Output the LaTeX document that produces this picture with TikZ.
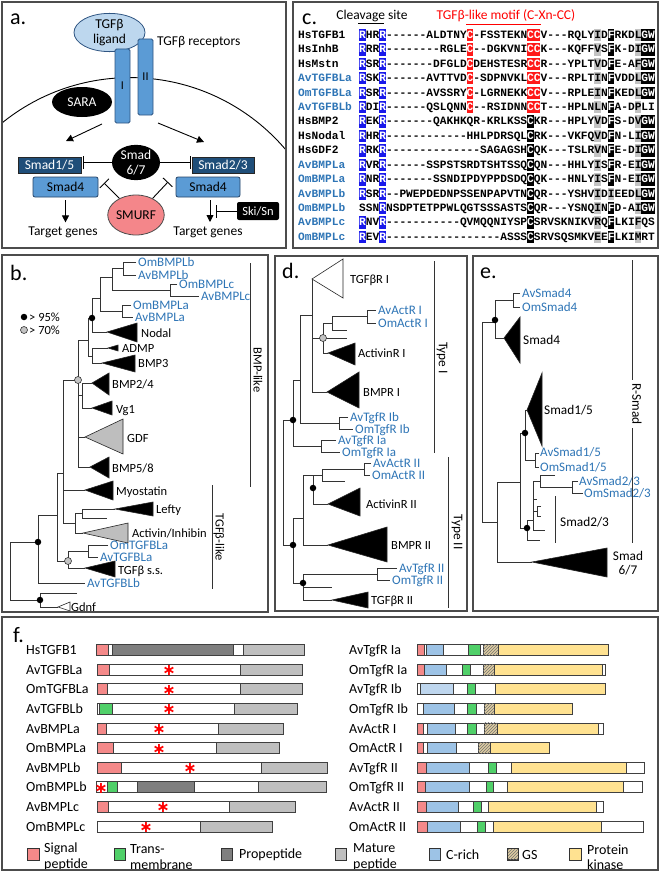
\documentclass[tikz,border=0pt]{standalone}
\usepackage{fontspec}
\setmainfont{Carlito}
\setmonofont{Liberation Mono}
\newfontfamily\djv{DejaVu Sans}
\usetikzlibrary{shapes.geometric,arrows.meta,patterns}
\definecolor{tb}{RGB}{46,117,182}
\definecolor{ligc}{RGB}{189,215,238}
\definecolor{recc}{RGB}{91,155,213}
\definecolor{recb}{RGB}{47,85,130}
\definecolor{dkb}{RGB}{31,78,121}
\definecolor{smurfc}{RGB}{244,134,138}
\definecolor{sigc}{RGB}{244,137,137}
\definecolor{tmc}{RGB}{80,208,105}
\definecolor{proc}{RGB}{127,127,127}
\definecolor{matc}{RGB}{191,191,191}
\definecolor{crc}{RGB}{157,195,230}
\definecolor{crl}{RGB}{190,214,238}
\definecolor{gsc}{RGB}{222,204,160}
\definecolor{pkc}{RGB}{255,226,145}
\definecolor{pblue}{RGB}{25,25,235}
\definecolor{pred}{RGB}{255,25,25}
\definecolor{pgray}{RGB}{195,195,195}
\definecolor{trig}{RGB}{190,190,190}
\newcommand\fsz[2]{\fontsize{#1}{#2}\selectfont}
\newcommand\w[1]{\textcolor{white}{#1}}
\newcommand\hl[3]{\fill[#1] ({359+#3*6.72},{35+#2*14.43-6.2}) rectangle ({359+(#3+1)*6.72},{35+#2*14.43+6.2});}
\newcommand\tri[6]{\filldraw[fill=#1,draw=black!85,line width=0.6pt] (#2,#3) -- (#4,#5) -- (#4,#6) -- cycle;}
\newcommand\tbr[5]{\draw[tl] (#4,#2) -| (#1,#3) -- (#5,#3);}
\newcommand\tlab[4][lab]{\node[#1] at ({#2+1},{#3+4.3}) {#4};}
\newcommand\seg[4]{\filldraw[fill=#4,draw=black!75,line width=0.5pt] (#2,{#1-5.5}) rectangle (#3,{#1+5.5});}
\newcommand\gsseg[3]{\filldraw[fill=gsc,draw=black!75,line width=0.5pt] (#2,{#1-5.5}) rectangle (#3,{#1+5.5});
  \fill[pattern=north east lines,pattern color=black!55] (#2,{#1-5.5}) rectangle (#3,{#1+5.5});}
\newcommand\redast[2]{\node[text=red,inner sep=0pt,font=\djv\bfseries\fsz{16}{16}] at (#1,{#2+1}) {∗};}
\newcommand\seqrow[3]{\node[seq,text=#2] at (298,{35+#1*14.43+3.4}) {#3};}
\newcommand\sq[2]{\node[seq] at (359,{35+#1*14.43+3.4}) {#2};}
\begin{document}
\begin{tikzpicture}[x=1pt,y=-1pt,
  tl/.style={draw=black!80,line width=0.8pt},
  panel/.style={draw=black!70,line width=1.3pt},
  lab/.style={anchor=base west,inner sep=0pt,font=\fsz{12.5}{14}},
  labb/.style={anchor=base west,inner sep=0pt,font=\fsz{13}{14},text=tb},
  labe/.style={anchor=base west,inner sep=0pt,font=\fsz{13.3}{14}},
  flab/.style={anchor=base west,inner sep=0pt,font=\fsz{14}{15}},
  leg/.style={anchor=west,inner sep=0pt,align=left,font=\fsz{14}{15.5}},
  seq/.style={anchor=base west,inner sep=0pt,font=\ttfamily\bfseries\fsz{11.2}{12}},
  big/.style={anchor=base west,inner sep=0pt,font=\fsz{22}{24}},
  bdot/.style={circle,fill=black,inner sep=0pt,minimum size=6.5pt},
  gdot/.style={circle,fill=pgray,draw=black!80,line width=0.6pt,inner sep=0pt,minimum size=7pt},
  arr/.style={line width=0.9pt,-{Triangle[length=7pt,width=7pt]}},
  inh/.style={line width=0.9pt,-{Bar[width=13pt,line width=0.9pt]}},
  atxt/.style={font=\fsz{13.5}{15.5},inner sep=0pt}
]
\useasboundingbox (0,0) rectangle (660,875);
\fill[white] (0,0) rectangle (660,875);

%================ panel a
\node[big] (la) at (10,25) {a.};
\begin{scope}
\clip (2,2) rectangle (286,248);
\draw[line width=0.9pt] (130.2,281.4) circle [radius=203.8];
\end{scope}
\node[ellipse,fill=black,minimum width=60pt,minimum height=30pt,inner sep=0pt,text=white,atxt] (sara) at (82,102) {SARA};
\node[ellipse,fill=ligc,draw=recb,line width=0.8pt,minimum width=71pt,minimum height=35pt,inner sep=0pt,align=center,atxt] (lig) at (109.5,32.5) {TGFβ\\ligand};
\node[rounded corners=1.5pt,fill=recc,draw=recb,line width=0.8pt,minimum width=15pt,minimum height=74pt,inner sep=0pt,font=\fsz{12}{13}] (r1) at (122.5,86) {I};
\node[rounded corners=1.5pt,fill=recc,draw=recb,line width=0.8pt,minimum width=15pt,minimum height=76pt,inner sep=0pt,font=\fsz{12}{13}] (r2) at (145.5,77) {II};
\node[atxt,anchor=west] (rec) at (157,42) {TGFβ receptors};
\coordinate (a1s) at (102,124); \coordinate (a1e) at (66,141);
\coordinate (a2s) at (158,123); \coordinate (a2e) at (204,142);
\draw[arr] (a1s) -- (a1e);
\draw[arr] (a2s) -- (a2e);
\node[fill=dkb,draw=black!85,line width=0.8pt,minimum width=63pt,minimum height=16pt,inner sep=0pt,text=white,atxt] (s15) at (49.5,165) {Smad1/5};
\node[rounded corners=2pt,fill=recc,draw=recb!80!black,line width=0.8pt,minimum width=65pt,minimum height=20pt,inner sep=0pt,atxt] (s4l) at (65.5,187) {Smad4};
\node[fill=dkb,draw=black!85,line width=0.8pt,minimum width=62pt,minimum height=16pt,inner sep=0pt,text=white,atxt] (s23) at (223,165) {Smad2/3};
\node[rounded corners=2pt,fill=recc,draw=recb!80!black,line width=0.8pt,minimum width=64pt,minimum height=20pt,inner sep=0pt,atxt] (s4r) at (208,187) {Smad4};
\node[ellipse,fill=black,minimum width=48pt,minimum height=32pt,inner sep=0pt,text=white,align=center,font=\fsz{13.5}{15}] (s67) at (136,162.5) {Smad\\6/7};
\node[ellipse,fill=smurfc,draw=black!70,line width=0.8pt,minimum width=48pt,minimum height=40pt,inner sep=0pt,atxt] (smurf) at (136,215) {SMURF};
\node[rounded corners=2pt,fill=black,minimum width=42pt,minimum height=18pt,inner sep=0pt,text=white,font=\fsz{12.5}{14}] (ski) at (258,211) {Ski/Sn};
\node[atxt,anchor=base] (tgl) at (63,235) {Target genes};
\node[atxt,anchor=base] (tgr) at (208,235) {Target genes};
\draw[inh,shorten >=2pt] (s67.west) -- (s67.west -| s15.east);
\draw[inh,shorten >=1pt] (s67.east) -- (s67.east -| s23.west);
\coordinate (m1) at (104,183); \coordinate (m2) at (168,182);
\draw[inh] (smurf.135) -- (m1);
\draw[inh] (smurf.45) -- (m2);
\draw[arr] (s4l.south) ++(0,3) -- ++(0,22);
\coordinate (d2s) at (210,200); \coordinate (d2e) at (210,222);
\draw[arr] (d2s) -- (d2e);
\draw[inh] (ski.west) -- ++(-21,0);

%================ panel c
\node[big] (lc) at (302,25) {c.};
\node[anchor=base,inner sep=0pt,font=\fsz{13.5}{15}] (cs) at (372,20) {Cleavage site};
\draw[line width=0.8pt] (358,23.5) -- (384,23.5);
\node[anchor=base,inner sep=0pt,font=\fsz{13.5}{15},text=red] (mt) at (506,20) {TGFβ-like motif (C-Xn-CC)};
\draw[red,line width=0.8pt] (466,24) -- (541,24);
\foreach \r in {0,1,2,3,4,5,6,7,8,9,10,11,13,14} {\hl{pblue}{\r}{0}}
\foreach \r in {0,...,14} {\hl{pblue}{\r}{3}}
\foreach \r in {0,...,5} {\foreach \c in {16,25,26} {\hl{pred}{\r}{\c}}}
\foreach \r in {6,...,14} {\hl{black}{\r}{25}}
\foreach \r in {0,1,2,3,4,5,6,7,8,9,10,12,13,14} {\hl{black}{\r}{37}}
\hl{pgray}{11}{37}
\foreach \r in {0,1,2,3,4,6,7,8,9,10,11,12} {\hl{black}{\r}{42}\hl{black}{\r}{43}}
\foreach \r in {0,...,14} {\hl{pgray}{\r}{35}\hl{pgray}{\r}{41}}
\seqrow{0}{black}{HsTGFB1}
\seqrow{1}{black}{HsInhB}
\seqrow{2}{black}{HsMstn}
\seqrow{3}{tb}{AvTGFBLa}
\seqrow{4}{tb}{OmTGFBLa}
\seqrow{5}{tb}{AvTGFBLb}
\seqrow{6}{black}{HsBMP2}
\seqrow{7}{black}{HsNodal}
\seqrow{8}{black}{HsGDF2}
\seqrow{9}{tb}{AvBMPLa}
\seqrow{10}{tb}{OmBMPLa}
\seqrow{11}{tb}{AvBMPLb}
\seqrow{12}{tb}{OmBMPLb}
\seqrow{13}{tb}{AvBMPLc}
\seqrow{14}{tb}{OmBMPLc}
\sq{0}{\w{R}HR\w{R}------ALDTNY\w{C}-FSSTEKN\w{C}\w{C}V---RQLYID\w{F}RKDL\w{G}\w{W}}
\sq{1}{\w{R}RR\w{R}--------RGLE\w{C}--DGKVNI\w{C}\w{C}K---KQFFVS\w{F}K-DI\w{G}\w{W}}
\sq{2}{\w{R}SR\w{R}-------DFGLD\w{C}DEHSTESR\w{C}\w{C}R---YPLTVD\w{F}E-AF\w{G}\w{W}}
\sq{3}{\w{R}SK\w{R}------AVTTVD\w{C}-SDPNVKL\w{C}\w{C}V---RPLTIN\w{F}VDDL\w{G}\w{W}}
\sq{4}{\w{R}SR\w{R}------AVSSRY\w{C}-LGRNEKK\w{C}\w{C}V---RPLEIN\w{F}KEDL\w{G}\w{W}}
\sq{5}{\w{R}DI\w{R}------QSLQNN\w{C}--RSIDNN\w{C}\w{C}T---HPLNLN\w{F}A-DPLI}
\sq{6}{\w{R}EK\w{R}-------QAKHKQR-KRLKSS\w{C}KR---HPLYVD\w{F}S-DV\w{G}\w{W}}
\sq{7}{\w{R}HR\w{R}------------HHLPDRSQL\w{C}RK---VKFQVD\w{F}N-LI\w{G}\w{W}}
\sq{8}{\w{R}RK\w{R}--------------SAGAGSH\w{C}QK---TSLRVN\w{F}E-DI\w{G}\w{W}}
\sq{9}{\w{R}VR\w{R}------SSPSTSRDTSHTSSQ\w{C}QN---HHLYIS\w{F}R-EI\w{G}\w{W}}
\sq{10}{\w{R}NR\w{R}-------SSNDIPDYPPDSDQ\w{C}QK---HNLYIS\w{F}N-EI\w{G}\w{W}}
\sq{11}{\w{R}SR\w{R}--PWEPDEDNPSSENPAPVTN\w{C}QR---YSHVIDIEEDL\w{G}\w{W}}
\sq{12}{SSN\w{R}NSDPTETPPWLQGTSSSASTS\w{C}QR---YSNQIN\w{F}D-AI\w{G}\w{W}}
\sq{13}{\w{R}NV\w{R}-----------QVMQQNIYSP\w{C}SRVSKNIKVRQ\w{F}LKIFQS}
\sq{14}{\w{R}EV\w{R}-----------------ASSS\w{C}SRVSQSMKVEE\w{F}LKIMRT}

%================ panel b
\node[big] (lb) at (10,280) {b.};
\node[bdot] (k1) at (24,317) {}; \node[anchor=west,inner sep=1pt,font=\fsz{12.5}{14}] (k1t) at (28,317) {> 95\%};
\node[gdot] (k2) at (24,330) {}; \node[anchor=west,inner sep=1pt,font=\fsz{12.5}{14}] (k2t) at (28,330) {> 70\%};
\draw[tl] (38,542) -| (10,600) -- (40,600);
\draw[tl] (77,593) -| (40,607) -- (58,607);
\tri{white}{58}{607}{70}{602}{611}
\draw[tl] (57,515) -| (38,583) -- (85,583);
\draw[tl] (63,473) -| (57,561) -- (68,561);
\draw[tl] (88,551) -| (68,568) -- (85,568);
\tbr{88}{545}{557}{108}{98}
\tri{black}{85}{568}{115}{561}{577}
\draw[tl] (78,380) -| (63,523) -- (75,523);
\draw[tl] (63,490) -- (85,490);
\tri{black}{85}{490}{113}{481}{500}
\draw[tl] (82,513) -| (75,533) -- (83,533);
\draw[tl] (115,509) -| (82,518) -- (107,518);
\tri{black}{115}{509}{153}{502}{516}
\tri{trig}{83}{533}{128}{523}{543}
\draw[tl] (88,340) -| (78,467) -- (90,467);
\draw[tl] (78,395) -- (82,395);
\draw[tl] (92,383) -| (82,408) -- (92,408);
\tri{black}{92}{383}{109}{373}{395}
\tri{black}{92}{408}{112}{401}{415}
\draw[tl] (78,437) -- (85,437);
\tri{trig}{85}{437}{123}{419}{454}
\tri{black}{90}{467}{109}{457}{478}
\draw[tl] (92,318) -| (88,356) -- (92,356);
\draw[tl] (108,348) -| (92,363) -- (102,363);
\tri{black}{108}{348}{118}{345}{351}
\tri{black}{102}{363}{135}{355}{372}
\draw[tl] (100,298) -| (92,332) -- (107,332);
\tri{black}{107}{332}{137}{323}{342}
\draw[tl] (112,277) -| (100,311) -- (122,311);
\tbr{122}{305}{317}{131}{133}
\draw[tl] (123,268) -| (112,290) -- (170,290);
\tbr{123}{262}{275}{136}{136}
\tbr{170}{284}{296}{177}{199}
\node[bdot] at (38,542) {}; \node[bdot] at (40,600) {}; \node[bdot] at (92,318) {};
\node[gdot] at (78,380) {}; \node[gdot] at (68,561) {};
\tlab[labb]{137}{262}{OmBMPLb}
\tlab[labb]{137}{275}{AvBMPLb}
\tlab[labb]{178}{284}{OmBMPLc}
\tlab[labb]{200}{296}{AvBMPLc}
\tlab[labb]{132}{305}{OmBMPLa}
\tlab[labb]{134}{317}{AvBMPLa}
\tlab{140}{333}{Nodal}
\tlab{121}{348}{ADMP}
\tlab{137}{363}{BMP3}
\tlab{111}{384}{BMP2/4}
\tlab{115}{409}{Vg1}
\tlab{126}{438}{GDF}
\tlab{111}{468}{BMP5/8}
\tlab{115}{491}{Myostatin}
\tlab{155}{509}{Lefty}
\tlab{131}{533}{Activin/Inhibin}
\tlab[labb]{109}{545}{OmTGFBLa}
\tlab[labb]{99}{557}{AvTGFBLa}
\tlab{117}{570}{TGFβ s.s.}
\tlab[labb]{86}{583}{AvTGFBLb}
\tlab{70}{607}{Gdnf}
\draw[line width=0.9pt,black!80] (250,263) -- (250,487);
\node[rotate=-90,inner sep=0pt,font=\fsz{12.5}{14}] (bl) at (258,370) {BMP-like};
\draw[line width=0.9pt,black!80] (212,485) -- (212,589);
\node[rotate=-90,inner sep=0pt,font=\fsz{12.5}{14}] (tl) at (219,537) {TGFβ-like};

%================ panel d
\node[big] (ld) at (282,278) {d.};
\draw[tl] (293,420) -| (283,545) -- (293,545);
\draw[tl] (300,380) -| (293,446) -- (321,446);
\tbr{321}{440}{452}{336}{340}
\draw[tl] (312,315) -| (300,423) -- (339,423);
\tbr{339}{417}{429}{348}{353}
\draw[tl] (312,279) -- (312,392) -- (327,392);
\draw[tl] (312,338) -- (323,338);
\tri{white}{312}{279}{343}{259}{298}
\tri{black}{327}{392}{359}{372}{408}
\draw[tl] (332,323) -| (323,353) -- (328,353);
\draw[tl] (323,338) -- (347,338);
\draw[tl] (367,316) -| (332,330) -- (347,330);
\tbr{367}{310}{323}{376}{376}
\tri{black}{328}{353}{355}{343}{365}
\draw[tl] (303,518) -| (293,583) -- (303,583);
\draw[tl] (313,475) -| (303,545) -- (328,545);
\tri{black}{328}{545}{387}{527}{562}
\draw[tl] (322,475) -| (313,504) -- (328,504);
\tri{black}{328}{504}{360}{488}{516}
\draw[tl] (364,469) -| (322,481) -- (345,481);
\tbr{364}{463}{475}{371}{370}
\draw[tl] (377,574) -| (303,600) -- (332,600);
\draw[tl] (303,587) -- (332,587);
\tbr{377}{568}{580}{397}{390}
\tri{black}{332}{600}{368}{592}{608}
\node[bdot] at (293,420) {}; \node[bdot] at (293,545) {};
\node[bdot] at (313,488) {}; \node[bdot] at (303,583) {};
\node[gdot] at (323,338) {};
\tlab{349}{279}{TGFβR I}
\tlab[labb]{377}{310}{AvActR I}
\tlab[labb]{377}{323}{OmActR I}
\tlab{357}{353}{ActivinR I}
\tlab{362}{392}{BMPR I}
\tlab[labb]{349}{417}{AvTgfR Ib}
\tlab[labb]{354}{429}{OmTgfR Ib}
\tlab[labb]{337}{440}{AvTgfR Ia}
\tlab[labb]{341}{452}{OmTgfR Ia}
\tlab[labb]{372}{463}{AvActR II}
\tlab[labb]{371}{475}{OmActR II}
\tlab{365}{504}{ActivinR II}
\tlab{390}{545}{BMPR II}
\tlab[labb]{398}{568}{AvTgfR II}
\tlab[labb]{391}{580}{OmTgfR II}
\tlab{370}{600}{TGFβR II}
\draw[line width=0.9pt,black!80] (434,261) -- (434,453);
\node[rotate=-90,inner sep=0pt,font=\fsz{13.3}{14}] (t1) at (442,358) {Type I};
\draw[line width=0.9pt,black!80] (448,457) -- (448,608);
\node[rotate=-90,inner sep=0pt,font=\fsz{13.3}{14}] (t2) at (457,532) {Type II};

%================ panel e
\node[big] (le) at (480,278) {e.};
\draw[tl] (495,322) -| (482,522) -- (497,522);
\draw[tl] (513,300) -| (495,338) -- (504,338);
\tbr{513}{293}{307}{520}{520}
\tri{black}{504}{338}{520}{317}{363}
\draw[tl] (520,482) -| (497,562) -- (532,562);
\tri{black}{532}{562}{607}{548}{577}
\draw[tl] (525,433) -| (520,528) -- (527,528);
\draw[tl] (527,410) -| (525,460) -- (535,460);
\tri{black}{527}{410}{542}{373}{446}
\tbr{535}{453}{467}{539}{539}
\draw[tl] (533,520) -| (527,540) -- (540,540);
\draw[tl] (540,481) -| (533,530) -- (545,530);
\draw[tl] (533,499) -- (537,499);
\draw[tl] (533,511) -- (537,511);
\tbr{537}{506}{516}{541}{541}
\draw[tl] (555,475) -| (540,487) -- (572,487);
\tbr{572}{481}{493}{578}{583}
\node[bdot] at (495,320) {}; \node[bdot] at (525,433) {}; \node[bdot] at (527,528) {};
\tlab[labb]{521}{293}{AvSmad4}
\tlab[labb]{521}{307}{OmSmad4}
\tlab[labe]{522}{340}{Smad4}
\tlab[labe]{543}{410}{Smad1/5}
\tlab[labb]{539}{452}{AvSmad1/5}
\tlab[labb]{539}{467}{OmSmad1/5}
\tlab[labb]{578}{481}{AvSmad2/3}
\tlab[labb]{583}{493}{OmSmad2/3}
\tlab[labe]{559}{522}{Smad2/3}
\node[align=center,inner sep=0pt,font=\fsz{13.3}{13.5}] (s67e) at (628,563) {Smad\\6/7};
\draw[line width=0.9pt,black!80] (632,260) -- (632,380);
\draw[line width=0.9pt,black!80] (632,428) -- (632,543);
\node[rotate=-90,inner sep=0pt,font=\fsz{13.3}{14}] (rs) at (637,404) {R-Smad};
\draw[line width=0.9pt,black!80] (555,496) -- (555,543);

%================ panel f
\node[big] (lf) at (13,642) {f.};
\node[flab] at (26,654.6) {HsTGFB1};
\node[flab] at (26,674.2) {AvTGFBLa};
\node[flab] at (26,693.8) {OmTGFBLa};
\node[flab] at (26,713.4) {AvTGFBLb};
\node[flab] at (26,733) {AvBMPLa};
\node[flab] at (26,752.6) {OmBMPLa};
\node[flab] at (26,772.2) {AvBMPLb};
\node[flab] at (26,791.8) {OmBMPLb};
\node[flab] at (26,811.4) {AvBMPLc};
\node[flab] at (26,831) {OmBMPLc};
\seg{650}{96.7}{108.3}{sigc}\seg{650}{108.3}{112}{white}\seg{650}{112}{233}{proc}\seg{650}{233}{243}{white}\seg{650}{243}{304}{matc}
\seg{669.6}{97}{109}{sigc}\seg{669.6}{109}{240}{white}\seg{669.6}{240}{302}{matc}
\seg{689.2}{97}{107}{sigc}\seg{689.2}{107}{240}{white}\seg{689.2}{240}{302}{matc}
\seg{708.8}{97}{99.5}{white}\seg{708.8}{99.5}{112}{tmc}\seg{708.8}{112}{234}{white}\seg{708.8}{234}{297}{matc}
\seg{728.4}{97}{106}{sigc}\seg{728.4}{106}{218}{white}\seg{728.4}{218}{283}{matc}
\seg{748}{97}{113}{sigc}\seg{748}{113}{216}{white}\seg{748}{216}{279}{matc}
\seg{767.6}{97}{121}{sigc}\seg{767.6}{121}{261}{white}\seg{767.6}{261}{327}{matc}
\seg{787.2}{96}{107}{white}\seg{787.2}{107}{117}{tmc}\seg{787.2}{117}{137}{white}\seg{787.2}{137}{194}{proc}\seg{787.2}{194}{258}{white}\seg{787.2}{258}{326}{matc}
\seg{806.8}{97}{108}{sigc}\seg{806.8}{108}{229}{white}\seg{806.8}{229}{295}{matc}
\seg{826.4}{97}{200}{white}\seg{826.4}{200}{272}{matc}
\redast{169}{669.6}\redast{169}{689.2}\redast{169}{708.8}\redast{159}{728.4}\redast{159}{748}
\redast{190}{767.6}\redast{101}{787.2}\redast{163}{806.8}\redast{146}{826.4}
\node[flab] at (349,654.6) {AvTgfR Ia};
\node[flab] at (349,674.2) {OmTgfR Ia};
\node[flab] at (349,693.8) {AvTgfR Ib};
\node[flab] at (349,713.4) {OmTgfR Ib};
\node[flab] at (349,733) {AvActR I};
\node[flab] at (349,752.6) {OmActR I};
\node[flab] at (349,772.2) {AvTgfR II};
\node[flab] at (349,791.8) {OmTgfR II};
\node[flab] at (349,811.4) {AvActR II};
\node[flab] at (349,831) {OmActR II};
\seg{650}{417}{424}{sigc}\seg{650}{424}{426}{white}\seg{650}{426}{443}{crc}\seg{650}{443}{468}{white}\seg{650}{468}{480}{tmc}\seg{650}{480}{483}{white}\gsseg{650}{483}{498}\seg{650}{498}{608}{pkc}
\seg{669.6}{417}{424}{sigc}\seg{669.6}{424}{446}{crc}\seg{669.6}{446}{462}{white}\seg{669.6}{462}{470}{tmc}\seg{669.6}{470}{483}{white}\gsseg{669.6}{483}{494}\seg{669.6}{494}{602}{pkc}\seg{669.6}{602}{605}{white}
\seg{689.2}{417}{420}{white}\seg{689.2}{420}{453}{crl}\seg{689.2}{453}{467}{white}\seg{689.2}{467}{475}{tmc}\seg{689.2}{475}{495}{white}\seg{689.2}{495}{605}{pkc}
\seg{708.8}{417}{423}{white}\seg{708.8}{423}{454}{crc}\seg{708.8}{454}{467}{white}\seg{708.8}{467}{476}{tmc}\seg{708.8}{476}{484}{white}\gsseg{708.8}{484}{494}\seg{708.8}{494}{572}{pkc}
\seg{728.4}{417}{423}{sigc}\seg{728.4}{423}{427}{white}\seg{728.4}{427}{455}{crc}\seg{728.4}{455}{467}{white}\seg{728.4}{467}{476}{tmc}\seg{728.4}{476}{484}{white}\gsseg{728.4}{484}{497}\seg{728.4}{497}{598}{pkc}\seg{728.4}{598}{603}{white}
\seg{748}{417}{423}{sigc}\seg{748}{423}{427}{white}\seg{748}{427}{456}{crc}\seg{748}{456}{478}{white}\gsseg{748}{478}{490}\seg{748}{490}{549}{pkc}
\seg{767.6}{417}{426}{sigc}\seg{767.6}{426}{469}{crc}\seg{767.6}{469}{488}{white}\seg{767.6}{488}{496}{tmc}\seg{767.6}{496}{511}{white}\seg{767.6}{511}{626}{pkc}\seg{767.6}{626}{644}{white}
\seg{787.2}{417}{425}{sigc}\seg{787.2}{425}{469}{crc}\seg{787.2}{469}{486}{white}\seg{787.2}{486}{493}{tmc}\seg{787.2}{493}{507}{white}\seg{787.2}{507}{623}{pkc}\seg{787.2}{623}{642}{white}
\seg{806.8}{417}{426}{sigc}\seg{806.8}{426}{458}{crc}\seg{806.8}{458}{473}{white}\seg{806.8}{473}{481}{tmc}\seg{806.8}{481}{488}{white}\seg{806.8}{488}{596}{pkc}\seg{806.8}{596}{603}{white}
\seg{826.4}{417}{427}{sigc}\seg{826.4}{427}{460}{crc}\seg{826.4}{460}{477}{white}\seg{826.4}{477}{485}{tmc}\seg{826.4}{485}{493}{white}\seg{826.4}{493}{601}{pkc}\seg{826.4}{601}{643}{white}
% legend
\filldraw[fill=sigc,draw=black!80,line width=0.6pt] (27,848) rectangle (39,860);
\node[leg] (g1) at (44,857) {Signal\\peptide};
\filldraw[fill=tmc,draw=black!80,line width=0.6pt] (114,848) rectangle (125,860);
\node[leg] (g2) at (130,857) {Trans-\\membrane};
\filldraw[fill=proc,draw=black!80,line width=0.6pt] (221,848) rectangle (232,860);
\node[leg] (g3) at (239,855) {Propeptide};
\filldraw[fill=matc,draw=black!80,line width=0.6pt] (335,848) rectangle (346,860);
\node[leg] (g4) at (353,857) {Mature\\peptide};
\filldraw[fill=crc,draw=black!80,line width=0.6pt] (429,848) rectangle (440,860);
\node[leg] (g5) at (446,855) {C-rich};
\gsseg{854}{507}{518}
\draw[black!80,line width=0.6pt] (507,848) rectangle (518,860);
\node[leg] (g6) at (522,855) {GS};
\filldraw[fill=pkc,draw=black!80,line width=0.6pt] (569,848) rectangle (581,860);
\node[leg] (g7) at (587,857) {Protein\\kinase};

%================ frames
\draw[panel] (2,2) rectangle (286,248);
\draw[panel] (293,2) rectangle (658,248);
\draw[panel] (2,255) rectangle (268,612);
\draw[panel] (275,256) rectangle (467,611);
\draw[panel] (473,256) rectangle (658,611);
\draw[panel] (2,617) rectangle (658,870);
\end{tikzpicture}
\end{document}
